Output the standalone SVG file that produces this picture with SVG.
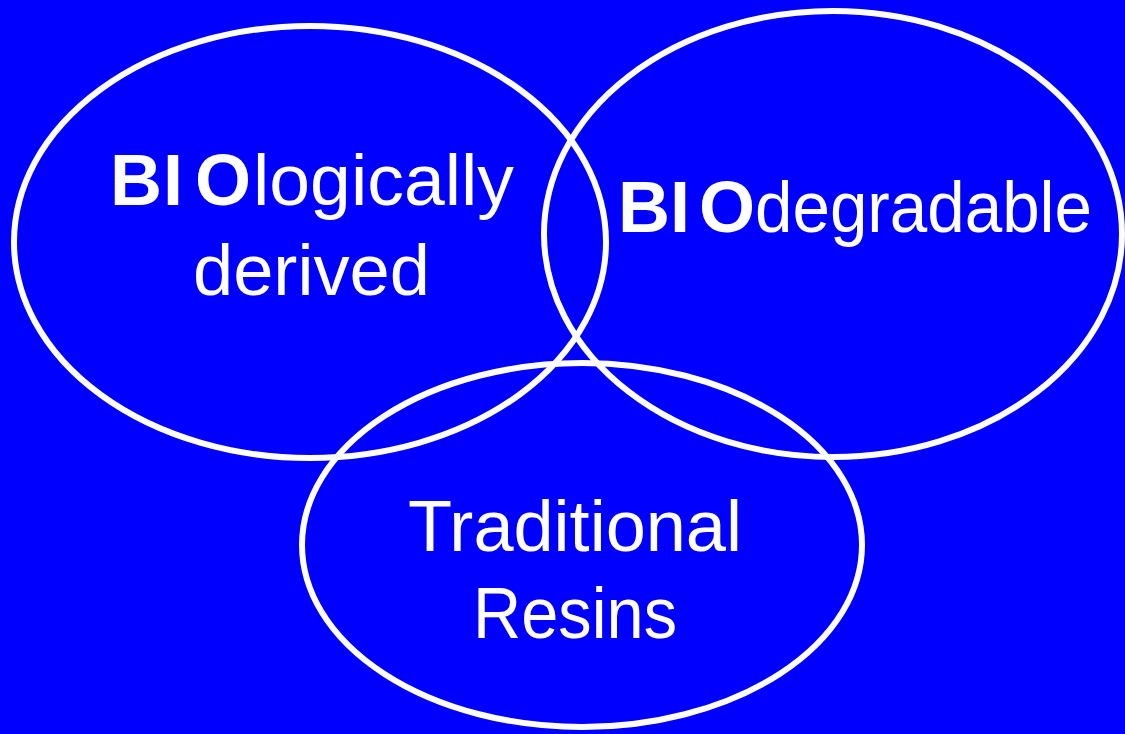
<svg xmlns="http://www.w3.org/2000/svg" width="1125" height="734" viewBox="0 0 1125 734">
<style>
.ring{fill:none;stroke:#fff;stroke-width:6}
.t{font-family:"Liberation Sans",Arial,sans-serif;font-size:72px;fill:#fff}
.b{font-weight:bold}
</style>
<rect width="1125" height="734" fill="#0000ff"/>
<g id="connectors"/>
<g id="bio-derived">
<ellipse class="ring" cx="310" cy="242" rx="296" ry="216"/>
<text class="t" y="205"><tspan class="b" x="110">B</tspan><tspan class="b" x="163">I</tspan><tspan class="b" x="195">O</tspan><tspan x="253" textLength="261" lengthAdjust="spacingAndGlyphs">logically</tspan></text>
<text class="t" x="193" y="295" textLength="237" lengthAdjust="spacingAndGlyphs">derived</text>
</g>
<g id="bio-degradable">
<ellipse class="ring" cx="833" cy="234" rx="289" ry="223"/>
<text class="t" y="232"><tspan class="b" x="618">B</tspan><tspan class="b" x="670">I</tspan><tspan class="b" x="699">O</tspan><tspan x="755" textLength="337" lengthAdjust="spacingAndGlyphs">degradable</tspan></text>
</g>
<g id="traditional">
<ellipse class="ring" cx="582" cy="545" rx="280" ry="182"/>
<text class="t" x="408" y="551" textLength="334" lengthAdjust="spacingAndGlyphs">Traditional</text>
<text class="t" x="473" y="638" textLength="204" lengthAdjust="spacingAndGlyphs">Resins</text>
</g>
</svg>
